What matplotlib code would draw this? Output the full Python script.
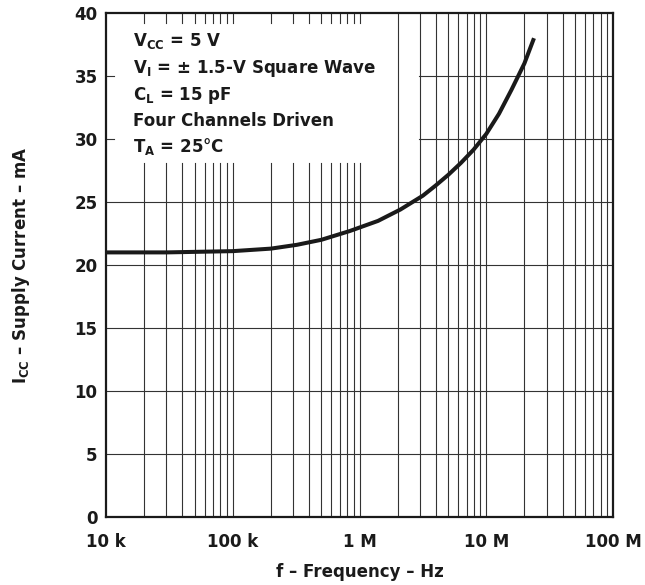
import numpy as np
import matplotlib
matplotlib.use('Agg')
import matplotlib.pyplot as plt

plt.rcParams['font.family'] = ['DejaVu Sans']
plt.rcParams['font.weight'] = 'bold'
plt.rcParams['mathtext.fontset'] = 'custom'
plt.rcParams['mathtext.rm'] = 'DejaVu Sans:bold'
plt.rcParams['mathtext.it'] = 'DejaVu Sans:bold'
plt.rcParams['mathtext.bf'] = 'DejaVu Sans:bold'

# Data
freq_hz = [1e4, 3e4, 1e5, 2e5, 3.2e5, 5e5, 8.4e5, 1.4e6, 2.1e6, 3.16e6, 3.98e6,
           5.01e6, 6.31e6, 7.94e6, 1.0e7, 1.26e7, 1.58e7, 2.0e7, 2.38e7]
icc_ma = [21.0, 21.0, 21.1, 21.3, 21.6, 22.0, 22.7, 23.5, 24.4, 25.5, 26.3,
          27.15, 28.1, 29.15, 30.4, 32.0, 33.9, 36.0, 38.0]

x_ticks = [1e4, 1e5, 1e6, 1e7, 1e8]
x_tick_labels = ['10 k', '100 k', '1 M', '10 M', '100 M']
y_ticks = [0, 5, 10, 15, 20, 25, 30, 35, 40]

notes = [r'V$_{\mathrm{CC}}$ = 5 V',
         r'V$_{\mathrm{I}}$ = $\pm$ 1.5-V Square Wave',
         r'C$_{\mathrm{L}}$ = 15 pF',
         'Four Channels Driven',
         r'T$_{\mathrm{A}}$ = 25°C']

W, H = 645, 585
fig = plt.figure(figsize=(W / 100, H / 100), dpi=100)
L, R, T, B = 106, 613, 13, 517
ax = fig.add_axes([L / W, 1 - B / H, (R - L) / W, (B - T) / H])
ax.set_xscale('log')
ax.set_xlim(1e4, 1e8)
ax.set_ylim(0, 40)

# grid lines, with the area behind the text block left clear
box_x = (1.15e4, 1.75e6)      # vertical lines hidden in this x range
box_y = (28.1, 39.2)          # ... between these y values
hbox_x = (1.15e4, 2.95e6)     # horizontal lines hidden in this x range
gcol = '#333333'
glw = 0.8
for d in [1e4, 1e5, 1e6, 1e7]:
    for m in range(1, 10):
        xv = d * m
        if xv <= 1e4 or xv >= 1e8:
            continue
        if box_x[0] <= xv <= box_x[1]:
            ax.plot([xv, xv], [0, box_y[0]], color=gcol, lw=glw, zorder=1)
            ax.plot([xv, xv], [box_y[1], 40], color=gcol, lw=glw, zorder=1)
        else:
            ax.plot([xv, xv], [0, 40], color=gcol, lw=glw, zorder=1)
for yv in y_ticks[1:-1]:
    if yv >= 29:
        ax.plot([1e4, hbox_x[0]], [yv, yv], color=gcol, lw=glw, zorder=1)
        ax.plot([hbox_x[1], 1e8], [yv, yv], color=gcol, lw=glw, zorder=1)
    else:
        ax.plot([1e4, 1e8], [yv, yv], color=gcol, lw=glw, zorder=1)

ax.plot(freq_hz, icc_ma, color='#1a1a1a', lw=2.9, solid_capstyle='butt',
        solid_joinstyle='round', zorder=3)

ax.set_xticks(x_ticks)
ax.set_xticklabels(x_tick_labels)
ax.xaxis.set_minor_locator(matplotlib.ticker.NullLocator())
ax.set_yticks(y_ticks)
ax.tick_params(axis='both', length=0, labelsize=12)
ax.tick_params(axis='x', pad=11.5)
ax.tick_params(axis='y', pad=6)
for lab in ax.get_xticklabels() + ax.get_yticklabels():
    lab.set_fontweight('bold')
    lab.set_color('#1a1a1a')
for s in ax.spines.values():
    s.set_linewidth(1.6)
    s.set_color('#1a1a1a')

ax.set_xlabel('f – Frequency – Hz', fontsize=12, fontweight='bold', color='#1a1a1a')
ax.xaxis.set_label_coords(0.5, (B - 563) / (B - T))
ax.set_ylabel(r'I$_{\mathrm{CC}}$ – Supply Current – mA', fontsize=12, fontweight='bold', color='#1a1a1a')
ax.yaxis.set_label_coords((32 - L) / (R - L), 0.5)

baselines = [46, 73, 100, 126, 152]
for txt, bl in zip(notes, baselines):
    ax.text((133 - L) / (R - L), (B - bl) / (B - T), txt, transform=ax.transAxes,
            fontsize=12, fontweight='bold', va='baseline', ha='left', color='#1a1a1a', zorder=4)

fig.savefig('out.png', dpi=100)
